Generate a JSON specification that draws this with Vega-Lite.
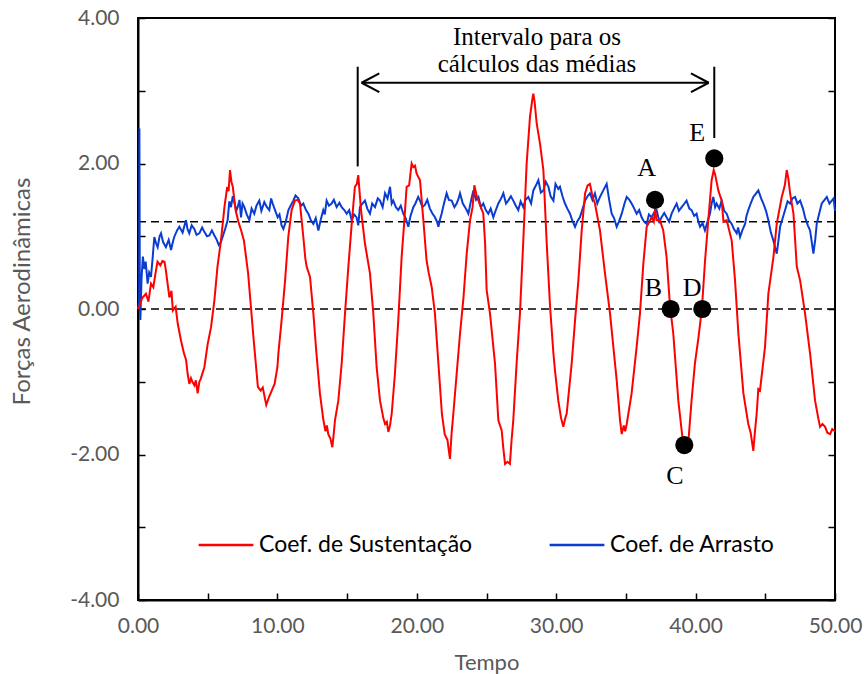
{
  "$schema": "https://vega.github.io/schema/vega-lite/v6.json",
  "width": 697,
  "height": 582,
  "autosize": "none",
  "padding": {"left": 138, "top": 18, "right": 30, "bottom": 74},
  "background": "white",
  "config": {
    "view": {"stroke": "black", "strokeWidth": 2},
    "axis": {"labelFont": "Lato", "titleFont": "Lato", "labelColor": "#595959", "titleColor": "#595959", "titleFontWeight": "normal", "domainColor": "black", "domainWidth": 2, "tickColor": "black", "tickWidth": 1.5, "grid": false},
    "legend": {"labelFont": "Lato"}
  },
  "datasets": {
    "lift": [
      {"t":0,"v":0},{"t":0.07,"v":0.03},{"t":0.3,"v":0.15},{"t":0.57,"v":0.21},{"t":0.75,"v":0.1},{"t":0.93,"v":0.35},{"t":1.1,"v":0.3},{"t":1.29,"v":0.53},{"t":1.4,"v":0.65},{"t":1.6,"v":0.6},{"t":1.75,"v":0.66},{"t":1.9,"v":0.65},{"t":2.0,"v":0.53},{"t":2.25,"v":0.16},{"t":2.4,"v":0.25},{"t":2.5,"v":-0.02},{"t":2.7,"v":0.03},{"t":2.85,"v":-0.2},{"t":3.08,"v":-0.43},{"t":3.3,"v":-0.61},{"t":3.45,"v":-0.7},{"t":3.56,"v":-0.89},{"t":3.68,"v":-1.03},{"t":3.8,"v":-0.95},{"t":3.9,"v":-1.0},{"t":4.05,"v":-1.05},{"t":4.15,"v":-0.98},{"t":4.28,"v":-1.16},{"t":4.4,"v":-1.0},{"t":4.5,"v":-0.96},{"t":4.76,"v":-0.8},{"t":5.0,"v":-0.48},{"t":5.24,"v":-0.25},{"t":5.48,"v":0.12},{"t":5.7,"v":0.58},{"t":5.95,"v":0.94},{"t":6.2,"v":1.4},{"t":6.4,"v":1.68},{"t":6.5,"v":1.62},{"t":6.6,"v":1.91},{"t":6.7,"v":1.75},{"t":6.8,"v":1.68},{"t":7.0,"v":1.36},{"t":7.2,"v":1.2},{"t":7.4,"v":1.08},{"t":7.6,"v":0.94},{"t":7.9,"v":0.49},{"t":8.1,"v":0.03},{"t":8.3,"v":-0.43},{"t":8.6,"v":-1.07},{"t":8.8,"v":-1.12},{"t":8.95,"v":-1.08},{"t":9.2,"v":-1.32},{"t":9.4,"v":-1.21},{"t":9.6,"v":-1.12},{"t":9.8,"v":-1.03},{"t":10.0,"v":-0.8},{"t":10.07,"v":-0.61},{"t":10.3,"v":-0.16},{"t":10.55,"v":0.39},{"t":10.78,"v":0.99},{"t":11.02,"v":1.36},{"t":11.26,"v":1.49},{"t":11.45,"v":1.5},{"t":11.62,"v":1.45},{"t":11.86,"v":0.99},{"t":12.0,"v":0.7},{"t":12.1,"v":0.58},{"t":12.34,"v":0.44},{"t":12.58,"v":-0.06},{"t":12.8,"v":-0.61},{"t":13.05,"v":-1.16},{"t":13.3,"v":-1.53},{"t":13.45,"v":-1.68},{"t":13.55,"v":-1.6},{"t":13.65,"v":-1.72},{"t":13.8,"v":-1.78},{"t":13.94,"v":-1.9},{"t":14.05,"v":-1.7},{"t":14.13,"v":-1.53},{"t":14.37,"v":-1.26},{"t":14.61,"v":-0.75},{"t":14.85,"v":-0.06},{"t":15.09,"v":0.58},{"t":15.33,"v":1.17},{"t":15.56,"v":1.68},{"t":15.7,"v":1.72},{"t":15.8,"v":1.84},{"t":16.0,"v":1.36},{"t":16.28,"v":0.9},{"t":16.64,"v":0.49},{"t":16.88,"v":-0.06},{"t":17.12,"v":-0.8},{"t":17.36,"v":-1.26},{"t":17.6,"v":-1.5},{"t":17.72,"v":-1.58},{"t":17.85,"v":-1.55},{"t":17.96,"v":-1.69},{"t":18.08,"v":-1.6},{"t":18.2,"v":-1.44},{"t":18.43,"v":-0.89},{"t":18.67,"v":-0.16},{"t":18.91,"v":0.71},{"t":19.1,"v":1.2},{"t":19.27,"v":1.68},{"t":19.45,"v":1.7},{"t":19.63,"v":2.0},{"t":19.75,"v":1.95},{"t":19.87,"v":1.97},{"t":19.99,"v":1.86},{"t":20.23,"v":1.77},{"t":20.47,"v":1.22},{"t":20.7,"v":0.67},{"t":20.85,"v":0.5},{"t":21.07,"v":0.3},{"t":21.3,"v":-0.06},{"t":21.55,"v":-0.75},{"t":21.8,"v":-1.44},{"t":22.0,"v":-1.72},{"t":22.2,"v":-1.8},{"t":22.3,"v":-1.95},{"t":22.38,"v":-2.06},{"t":22.5,"v":-1.7},{"t":22.62,"v":-1.44},{"t":22.86,"v":-0.89},{"t":23.1,"v":-0.34},{"t":23.35,"v":0.16},{"t":23.58,"v":0.76},{"t":23.82,"v":1.22},{"t":24.0,"v":1.4},{"t":24.13,"v":1.7},{"t":24.3,"v":1.55},{"t":24.42,"v":1.49},{"t":24.77,"v":1.31},{"t":24.9,"v":0.9},{"t":25.01,"v":0.26},{"t":25.25,"v":-0.06},{"t":25.61,"v":-0.75},{"t":25.85,"v":-1.53},{"t":26.09,"v":-1.67},{"t":26.2,"v":-1.9},{"t":26.33,"v":-2.13},{"t":26.5,"v":-2.1},{"t":26.68,"v":-2.13},{"t":26.8,"v":-1.8},{"t":26.92,"v":-1.53},{"t":27.16,"v":-0.75},{"t":27.4,"v":-0.06},{"t":27.64,"v":0.94},{"t":27.88,"v":2.0},{"t":28.12,"v":2.64},{"t":28.3,"v":2.9},{"t":28.36,"v":2.96},{"t":28.45,"v":2.85},{"t":28.6,"v":2.55},{"t":28.84,"v":2.27},{"t":29.08,"v":1.91},{"t":29.31,"v":0.94},{"t":29.56,"v":0.03},{"t":29.8,"v":-0.61},{"t":29.91,"v":-0.84},{"t":30.15,"v":-1.26},{"t":30.35,"v":-1.5},{"t":30.51,"v":-1.62},{"t":30.65,"v":-1.5},{"t":30.75,"v":-1.44},{"t":31.11,"v":-0.75},{"t":31.35,"v":-0.16},{"t":31.59,"v":0.39},{"t":31.83,"v":1.08},{"t":32.07,"v":1.59},{"t":32.25,"v":1.7},{"t":32.42,"v":1.72},{"t":32.6,"v":1.55},{"t":32.78,"v":1.45},{"t":33.14,"v":1.08},{"t":33.5,"v":0.49},{"t":33.86,"v":-0.06},{"t":34.1,"v":-0.52},{"t":34.34,"v":-0.98},{"t":34.58,"v":-1.53},{"t":34.7,"v":-1.72},{"t":34.85,"v":-1.6},{"t":34.95,"v":-1.68},{"t":35.06,"v":-1.58},{"t":35.41,"v":-1.16},{"t":35.77,"v":-0.52},{"t":36.01,"v":-0.06},{"t":36.25,"v":0.62},{"t":36.49,"v":1.13},{"t":36.85,"v":1.26},{"t":37.0,"v":1.2},{"t":37.09,"v":1.38},{"t":37.2,"v":1.22},{"t":37.44,"v":1.22},{"t":37.68,"v":1.08},{"t":37.92,"v":0.71},{"t":38.16,"v":0.05},{"t":38.4,"v":-0.34},{"t":38.76,"v":-1.26},{"t":39.0,"v":-1.67},{"t":39.11,"v":-1.85},{"t":39.47,"v":-1.85},{"t":39.71,"v":-1.26},{"t":39.95,"v":-0.75},{"t":40.2,"v":-0.4},{"t":40.45,"v":0.0},{"t":40.68,"v":0.67},{"t":40.91,"v":1.22},{"t":41.15,"v":1.77},{"t":41.3,"v":1.91},{"t":41.4,"v":1.85},{"t":41.63,"v":1.63},{"t":41.87,"v":1.49},{"t":42.0,"v":1.2},{"t":42.23,"v":1.22},{"t":42.59,"v":0.94},{"t":42.83,"v":0.39},{"t":43.07,"v":-0.34},{"t":43.43,"v":-1.16},{"t":43.78,"v":-1.58},{"t":43.95,"v":-1.7},{"t":44.14,"v":-1.95},{"t":44.25,"v":-1.7},{"t":44.38,"v":-1.44},{"t":44.5,"v":-1.1},{"t":44.62,"v":-1.12},{"t":44.98,"v":-0.52},{"t":45.22,"v":0.21},{"t":45.58,"v":0.71},{"t":45.82,"v":1.17},{"t":46.18,"v":1.54},{"t":46.4,"v":1.7},{"t":46.54,"v":1.91},{"t":46.65,"v":1.8},{"t":46.78,"v":1.59},{"t":47.02,"v":1.31},{"t":47.26,"v":0.58},{"t":47.5,"v":0.39},{"t":47.85,"v":-0.06},{"t":48.21,"v":-0.61},{"t":48.57,"v":-1.26},{"t":48.8,"v":-1.5},{"t":48.93,"v":-1.62},{"t":49.1,"v":-1.58},{"t":49.29,"v":-1.62},{"t":49.45,"v":-1.7},{"t":49.65,"v":-1.72},{"t":49.8,"v":-1.65},{"t":50.0,"v":-1.68}
    ],
    "drag": [
      {"t":0,"v":0},{"t":0.08,"v":0.1},{"t":0.1,"v":2.48},{"t":0.13,"v":0.3},{"t":0.17,"v":-0.15},{"t":0.25,"v":0.4},{"t":0.35,"v":0.72},{"t":0.45,"v":0.55},{"t":0.55,"v":0.65},{"t":0.69,"v":0.35},{"t":0.8,"v":0.5},{"t":0.93,"v":0.44},{"t":1.05,"v":0.7},{"t":1.17,"v":0.99},{"t":1.3,"v":0.9},{"t":1.41,"v":0.85},{"t":1.55,"v":1.0},{"t":1.65,"v":1.04},{"t":1.8,"v":0.92},{"t":2.0,"v":0.85},{"t":2.2,"v":0.95},{"t":2.37,"v":0.81},{"t":2.5,"v":0.92},{"t":2.6,"v":0.99},{"t":2.8,"v":1.08},{"t":2.97,"v":1.13},{"t":3.2,"v":1.05},{"t":3.44,"v":1.22},{"t":3.55,"v":1.1},{"t":3.68,"v":1.04},{"t":3.85,"v":1.15},{"t":4.04,"v":1.1},{"t":4.2,"v":1.02},{"t":4.4,"v":1.04},{"t":4.6,"v":1.12},{"t":4.76,"v":1.06},{"t":4.95,"v":1.0},{"t":5.12,"v":1.01},{"t":5.3,"v":1.08},{"t":5.48,"v":1.01},{"t":5.65,"v":0.95},{"t":5.79,"v":0.88},{"t":5.95,"v":0.92},{"t":6.07,"v":0.99},{"t":6.25,"v":1.1},{"t":6.43,"v":1.22},{"t":6.55,"v":1.48},{"t":6.67,"v":1.4},{"t":6.8,"v":1.55},{"t":6.91,"v":1.47},{"t":7.05,"v":1.35},{"t":7.15,"v":1.4},{"t":7.28,"v":1.5},{"t":7.39,"v":1.26},{"t":7.5,"v":1.45},{"t":7.63,"v":1.4},{"t":7.8,"v":1.3},{"t":7.99,"v":1.22},{"t":8.15,"v":1.38},{"t":8.34,"v":1.31},{"t":8.5,"v":1.42},{"t":8.7,"v":1.49},{"t":8.85,"v":1.35},{"t":9.06,"v":1.47},{"t":9.25,"v":1.4},{"t":9.42,"v":1.36},{"t":9.55,"v":1.52},{"t":9.66,"v":1.45},{"t":9.83,"v":1.36},{"t":10.02,"v":1.26},{"t":10.15,"v":1.3},{"t":10.3,"v":1.15},{"t":10.43,"v":1.1},{"t":10.6,"v":1.2},{"t":10.79,"v":1.36},{"t":10.95,"v":1.42},{"t":11.14,"v":1.49},{"t":11.3,"v":1.56},{"t":11.5,"v":1.52},{"t":11.7,"v":1.42},{"t":11.86,"v":1.45},{"t":12.05,"v":1.36},{"t":12.22,"v":1.31},{"t":12.4,"v":1.22},{"t":12.58,"v":1.17},{"t":12.75,"v":1.25},{"t":12.94,"v":1.08},{"t":13.1,"v":1.22},{"t":13.29,"v":1.36},{"t":13.4,"v":1.3},{"t":13.53,"v":1.49},{"t":13.7,"v":1.42},{"t":13.89,"v":1.45},{"t":14.05,"v":1.5},{"t":14.25,"v":1.4},{"t":14.45,"v":1.46},{"t":14.61,"v":1.4},{"t":14.8,"v":1.36},{"t":14.97,"v":1.31},{"t":15.15,"v":1.36},{"t":15.33,"v":1.22},{"t":15.5,"v":1.3},{"t":15.68,"v":1.26},{"t":15.8,"v":1.15},{"t":15.92,"v":1.4},{"t":16.1,"v":1.45},{"t":16.28,"v":1.49},{"t":16.45,"v":1.38},{"t":16.64,"v":1.31},{"t":16.8,"v":1.45},{"t":17.0,"v":1.4},{"t":17.2,"v":1.52},{"t":17.36,"v":1.49},{"t":17.55,"v":1.4},{"t":17.72,"v":1.59},{"t":17.9,"v":1.52},{"t":18.08,"v":1.68},{"t":18.2,"v":1.45},{"t":18.31,"v":1.49},{"t":18.5,"v":1.4},{"t":18.67,"v":1.36},{"t":18.85,"v":1.42},{"t":19.03,"v":1.31},{"t":19.2,"v":1.25},{"t":19.39,"v":1.13},{"t":19.55,"v":1.28},{"t":19.75,"v":1.4},{"t":19.9,"v":1.45},{"t":20.1,"v":1.54},{"t":20.23,"v":1.49},{"t":20.4,"v":1.4},{"t":20.58,"v":1.43},{"t":20.75,"v":1.5},{"t":20.94,"v":1.38},{"t":21.1,"v":1.32},{"t":21.3,"v":1.26},{"t":21.45,"v":1.2},{"t":21.55,"v":1.13},{"t":21.65,"v":1.22},{"t":21.78,"v":1.31},{"t":21.95,"v":1.45},{"t":22.14,"v":1.59},{"t":22.3,"v":1.5},{"t":22.5,"v":1.49},{"t":22.7,"v":1.4},{"t":22.86,"v":1.45},{"t":23.0,"v":1.52},{"t":23.1,"v":1.59},{"t":23.3,"v":1.45},{"t":23.46,"v":1.4},{"t":23.6,"v":1.35},{"t":23.7,"v":1.31},{"t":23.9,"v":1.5},{"t":24.06,"v":1.63},{"t":24.25,"v":1.5},{"t":24.42,"v":1.54},{"t":24.6,"v":1.4},{"t":24.77,"v":1.45},{"t":24.95,"v":1.36},{"t":25.13,"v":1.31},{"t":25.3,"v":1.38},{"t":25.49,"v":1.26},{"t":25.65,"v":1.35},{"t":25.85,"v":1.45},{"t":26.05,"v":1.52},{"t":26.21,"v":1.59},{"t":26.4,"v":1.45},{"t":26.56,"v":1.49},{"t":26.75,"v":1.55},{"t":26.92,"v":1.49},{"t":27.1,"v":1.42},{"t":27.28,"v":1.36},{"t":27.45,"v":1.48},{"t":27.64,"v":1.4},{"t":27.8,"v":1.5},{"t":28.0,"v":1.54},{"t":28.2,"v":1.45},{"t":28.36,"v":1.63},{"t":28.55,"v":1.7},{"t":28.72,"v":1.77},{"t":28.9,"v":1.6},{"t":29.08,"v":1.63},{"t":29.25,"v":1.75},{"t":29.44,"v":1.68},{"t":29.6,"v":1.55},{"t":29.8,"v":1.49},{"t":29.95,"v":1.72},{"t":30.15,"v":1.65},{"t":30.27,"v":1.68},{"t":30.45,"v":1.55},{"t":30.63,"v":1.45},{"t":30.8,"v":1.38},{"t":30.99,"v":1.31},{"t":31.15,"v":1.22},{"t":31.35,"v":1.13},{"t":31.5,"v":1.2},{"t":31.7,"v":1.26},{"t":31.9,"v":1.38},{"t":32.07,"v":1.49},{"t":32.25,"v":1.55},{"t":32.42,"v":1.59},{"t":32.6,"v":1.5},{"t":32.78,"v":1.59},{"t":32.95,"v":1.45},{"t":33.14,"v":1.54},{"t":33.35,"v":1.62},{"t":33.62,"v":1.72},{"t":33.8,"v":1.5},{"t":33.98,"v":1.31},{"t":34.15,"v":1.25},{"t":34.34,"v":1.13},{"t":34.5,"v":1.2},{"t":34.7,"v":1.31},{"t":34.9,"v":1.45},{"t":35.06,"v":1.54},{"t":35.25,"v":1.5},{"t":35.41,"v":1.45},{"t":35.6,"v":1.38},{"t":35.77,"v":1.31},{"t":35.95,"v":1.36},{"t":36.13,"v":1.26},{"t":36.3,"v":1.2},{"t":36.49,"v":1.17},{"t":36.65,"v":1.3},{"t":36.85,"v":1.26},{"t":37.0,"v":1.32},{"t":37.2,"v":1.36},{"t":37.4,"v":1.2},{"t":37.56,"v":1.26},{"t":37.75,"v":1.32},{"t":37.92,"v":1.26},{"t":38.1,"v":1.2},{"t":38.28,"v":1.31},{"t":38.45,"v":1.38},{"t":38.64,"v":1.45},{"t":38.8,"v":1.35},{"t":39.0,"v":1.4},{"t":39.2,"v":1.45},{"t":39.35,"v":1.49},{"t":39.55,"v":1.38},{"t":39.71,"v":1.36},{"t":39.9,"v":1.28},{"t":40.07,"v":1.31},{"t":40.2,"v":1.2},{"t":40.32,"v":1.13},{"t":40.5,"v":1.18},{"t":40.67,"v":1.08},{"t":40.85,"v":1.2},{"t":41.03,"v":1.31},{"t":41.15,"v":1.45},{"t":41.27,"v":1.54},{"t":41.4,"v":1.4},{"t":41.51,"v":1.45},{"t":41.7,"v":1.38},{"t":41.87,"v":1.49},{"t":42.05,"v":1.35},{"t":42.23,"v":1.31},{"t":42.4,"v":1.22},{"t":42.59,"v":1.17},{"t":42.75,"v":1.1},{"t":42.95,"v":1.04},{"t":43.05,"v":1.12},{"t":43.19,"v":0.99},{"t":43.35,"v":1.08},{"t":43.55,"v":1.17},{"t":43.65,"v":1.28},{"t":43.78,"v":1.36},{"t":43.95,"v":1.45},{"t":44.14,"v":1.54},{"t":44.3,"v":1.58},{"t":44.5,"v":1.63},{"t":44.7,"v":1.52},{"t":44.86,"v":1.45},{"t":45.05,"v":1.35},{"t":45.22,"v":1.22},{"t":45.4,"v":1.05},{"t":45.58,"v":0.94},{"t":45.7,"v":0.85},{"t":45.82,"v":0.76},{"t":45.95,"v":0.95},{"t":46.06,"v":1.13},{"t":46.25,"v":1.25},{"t":46.42,"v":1.36},{"t":46.6,"v":1.48},{"t":46.78,"v":1.45},{"t":46.95,"v":1.52},{"t":47.14,"v":1.54},{"t":47.3,"v":1.45},{"t":47.5,"v":1.49},{"t":47.7,"v":1.38},{"t":47.85,"v":1.26},{"t":48.05,"v":1.15},{"t":48.21,"v":1.08},{"t":48.35,"v":0.9},{"t":48.45,"v":0.76},{"t":48.58,"v":0.95},{"t":48.69,"v":1.17},{"t":48.85,"v":1.3},{"t":49.05,"v":1.45},{"t":49.25,"v":1.5},{"t":49.41,"v":1.54},{"t":49.6,"v":1.45},{"t":49.77,"v":1.49},{"t":49.9,"v":1.52},{"t":50.0,"v":1.35}
    ],
    "refs": [{"v": 0}, {"v": 1.2}],
    "segments": [
      {"x": 15.76, "y": 1.96, "x2": 15.76, "y2": 3.33},
      {"x": 41.34, "y": 2.35, "x2": 41.34, "y2": 3.33},
      {"x": 16.04, "y": 3.11, "x2": 40.94, "y2": 3.11},
      {"x": 16.04, "y": 3.11, "x2": 17.31, "y2": 3.24},
      {"x": 16.04, "y": 3.11, "x2": 17.31, "y2": 2.98},
      {"x": 40.94, "y": 3.11, "x2": 39.67, "y2": 3.24},
      {"x": 40.94, "y": 3.11, "x2": 39.67, "y2": 2.98}
    ],
    "dots": [
      {"t": 37.09, "v": 1.5}, {"t": 38.21, "v": 0.0}, {"t": 39.19, "v": -1.87}, {"t": 40.48, "v": 0.0}, {"t": 41.34, "v": 2.07}
    ],
    "letters": [
      {"t": 36.49, "v": 1.945, "label": "A"},
      {"t": 36.97, "v": 0.29, "label": "B"},
      {"t": 38.52, "v": -2.29, "label": "C"},
      {"t": 39.76, "v": 0.29, "label": "D"},
      {"t": 40.12, "v": 2.415, "label": "E"}
    ],
    "notes": [
      {"t": 28.62, "v": 3.74, "label": "Intervalo para os"},
      {"t": 28.62, "v": 3.37, "label": "cálculos das médias"}
    ]
  },
  "resolve": {"axis": {"y": "independent"}},
  "layer": [
    {
      "data": {"name": "refs"},
      "mark": {"type": "rule", "color": "black", "strokeWidth": 1.6, "strokeDash": [8, 5]},
      "encoding": {
        "y": {"field": "v", "type": "quantitative", "scale": {"domain": [-4, 4], "nice": false},
          "axis": {"orient": "right", "values": [-4,-3,-2,-1,0,1,2,3,4], "labels": false, "title": null, "tickSize": -7, "domain": false}}
      }
    },
    {
      "data": {"name": "drag"},
      "mark": {"type": "line", "strokeWidth": 2, "interpolate": "linear"},
      "encoding": {
        "x": {"field": "t", "type": "quantitative", "scale": {"domain": [0, 50], "nice": false},
          "axis": {"values": [0,5,10,15,20,25,30,35,40,45,50], "labelExpr": "datum.value % 10 == 0 ? format(datum.value, '.2f') : ''", "title": "Tempo", "labelFontSize": 21, "titleFontSize": 22, "tickSize": -7, "labelPadding": 22, "titlePadding": 16, "labelFlush": false}},
        "y": {"field": "v", "type": "quantitative", "scale": {"domain": [-4, 4], "nice": false},
          "axis": {"orient": "left", "values": [-4,-3,-2,-1,0,1,2,3,4], "labelExpr": "datum.value % 2 == 0 ? replace(format(datum.value, '.2f'), '\u2212', '-') : ''", "title": "Forças Aerodinâmicas", "labelFontSize": 21, "titleFontSize": 24, "tickSize": -7, "labelPadding": 26, "titleX": -116, "titleY": 273, "titleBaseline": "middle", "labelFlush": false}},
        "color": {"datum": "Coef. de Arrasto", "type": "nominal",
          "scale": {"domain": ["Coef. de Sustentação", "Coef. de Arrasto"], "range": ["#ff0000", "#0a3cd2"]},
          "legend": {"orient": "none", "legendX": 59, "legendY": 498, "direction": "horizontal", "title": null, "symbolType": "stroke", "symbolSize": 3000, "symbolStrokeWidth": 2.5, "labelFontSize": 23, "labelLimit": 400, "labelColor": "black", "columnPadding": 71, "labelOffset": 4, "padding": 0}}
      }
    },
    {
      "data": {"name": "lift"},
      "mark": {"type": "line", "strokeWidth": 2, "interpolate": "linear"},
      "encoding": {
        "x": {"field": "t", "type": "quantitative"},
        "y": {"field": "v", "type": "quantitative", "axis": null},
        "color": {"datum": "Coef. de Sustentação", "type": "nominal"}
      }
    },
    {
      "data": {"name": "segments"},
      "mark": {"type": "rule", "color": "black", "strokeWidth": 2},
      "encoding": {
        "x": {"field": "x", "type": "quantitative"},
        "x2": {"field": "x2"},
        "y": {"field": "y", "type": "quantitative", "axis": null},
        "y2": {"field": "y2"}
      }
    },
    {
      "data": {"name": "dots"},
      "mark": {"type": "point", "filled": true, "color": "black", "opacity": 1, "size": 330},
      "encoding": {
        "x": {"field": "t", "type": "quantitative"},
        "y": {"field": "v", "type": "quantitative", "axis": null}
      }
    },
    {
      "data": {"name": "letters"},
      "mark": {"type": "text", "font": "Liberation Serif", "fontSize": 26, "color": "black", "align": "center", "baseline": "middle"},
      "encoding": {
        "x": {"field": "t", "type": "quantitative"},
        "y": {"field": "v", "type": "quantitative", "axis": null},
        "text": {"field": "label"}
      }
    },
    {
      "data": {"name": "notes"},
      "mark": {"type": "text", "font": "Liberation Serif", "fontSize": 25, "color": "black", "align": "center", "baseline": "middle"},
      "encoding": {
        "x": {"field": "t", "type": "quantitative"},
        "y": {"field": "v", "type": "quantitative", "axis": null},
        "text": {"field": "label"}
      }
    }
  ]
}
